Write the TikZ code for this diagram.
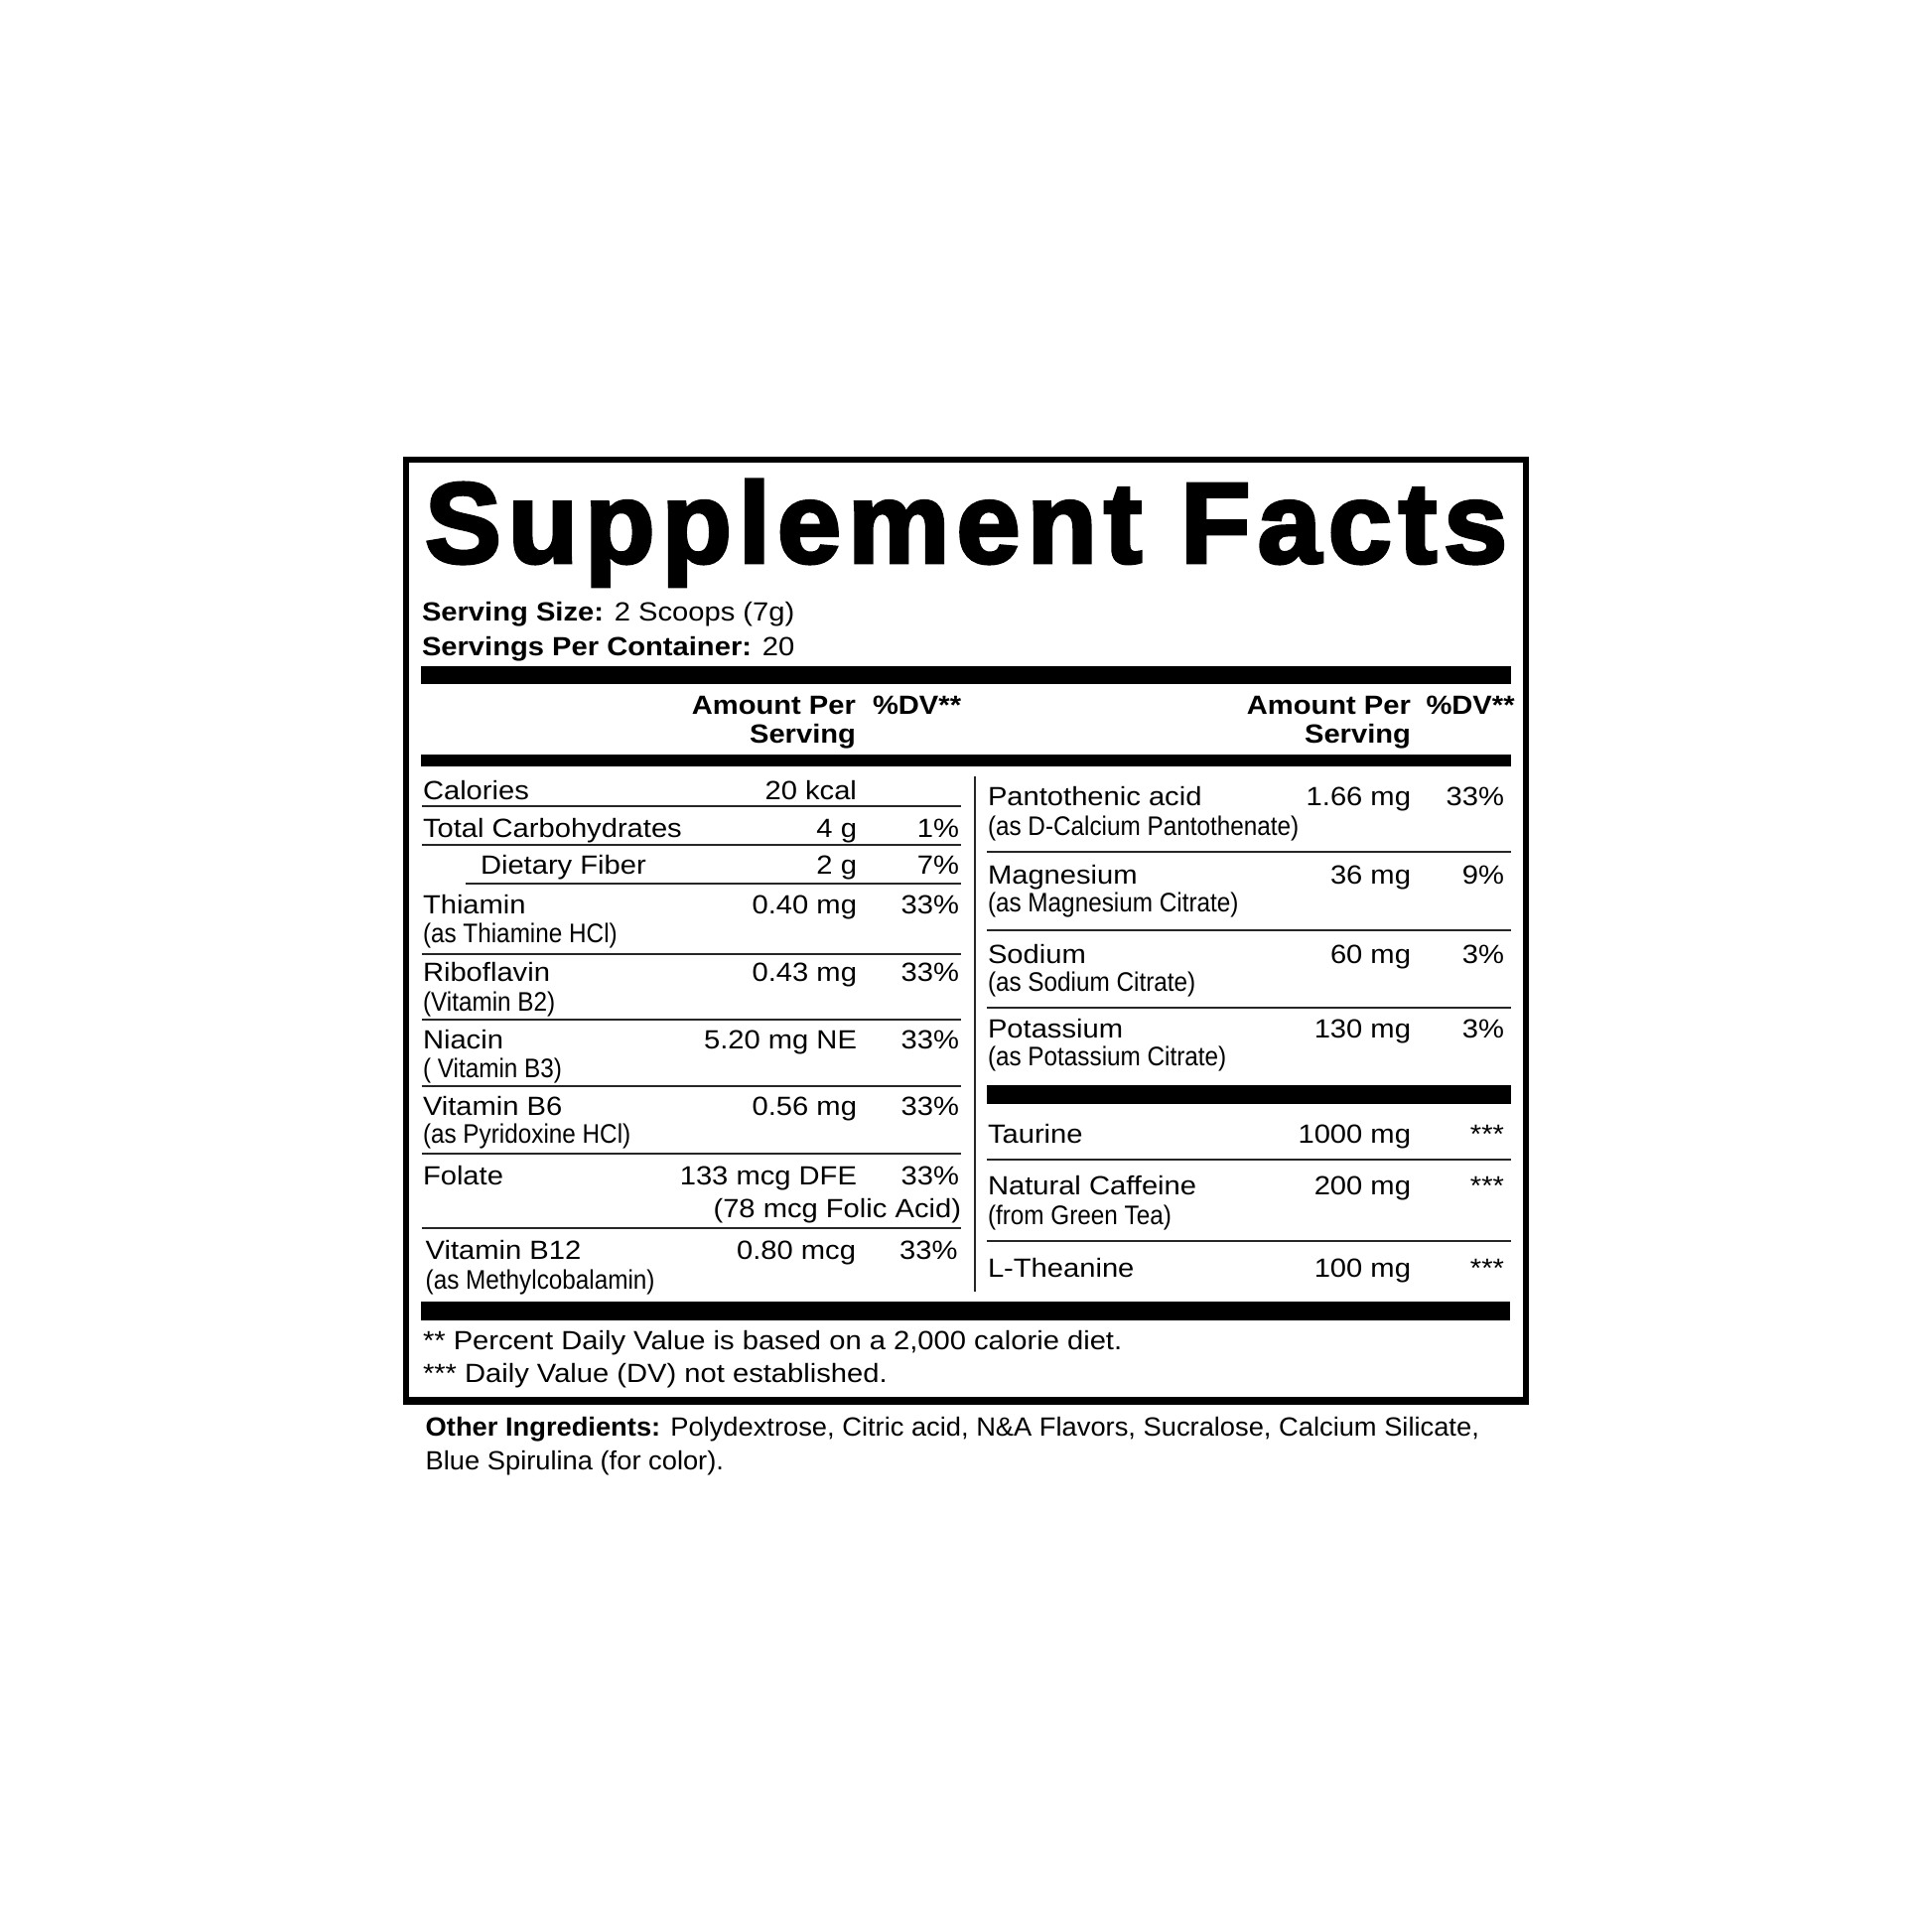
\documentclass[tikz,border=0pt]{standalone}
\usepackage{fontspec}
\usepackage{graphicx}
\newfontfamily\labelfont{Liberation Sans}[FakeStretch=1.1]
\newfontfamily\narrowfont{Liberation Sans}[FakeStretch=0.9]
\newfontfamily\heavyfont{Liberation Sans Bold}[FakeBold=3,LetterSpace=6]
\newcommand\bodysize{\fontsize{26.5}{30}\selectfont}
\newcommand\srcsize{\fontsize{27}{30}\selectfont}

\begin{document}
\begin{tikzpicture}[x=1pt,y=-1pt,
    every node/.style={inner sep=0pt,outer sep=0pt},
    lbl/.style={anchor=base west,font=\labelfont\bodysize},
    amt/.style={anchor=base east,font=\labelfont\bodysize},
    src/.style={anchor=base west,font=\narrowfont\srcsize},
    hdr/.style={font=\labelfont\bodysize\bfseries},
    rulethin/.style={line width=1.8pt,black!85},
    bar/.style={fill=black}]
  \useasboundingbox (0,0) rectangle (1946,1946);

  % frame
  \draw[line width=6pt] (408.5,462.5) rectangle (1537,1411);
  \draw[line width=8pt] (405.5,1411) -- (1540,1411);

  % title and serving info
  \node[anchor=base west] (title) at (428,566.7)
    {\resizebox{1090pt}{83.5pt}{\heavyfont Supplement Facts}};
  \node[lbl] (size) at (425,625) {\textbf{Serving Size:} 2 Scoops (7g)};
  \node[lbl] (servings) at (425,660) {\textbf{Servings Per Container:} 20};

  % heavy bars
  \fill[bar] (424,671) rectangle (1522,689);
  \fill[bar] (424,760) rectangle (1522,772);
  \fill[bar] (994,1093) rectangle (1522,1112);
  \fill[bar] (424,1311) rectangle (1521,1330);

  % column heads
  \node[hdr,anchor=base east] (amtL) at (862,719) {Amount Per};
  \node[hdr,anchor=base east] (servL) at (862,748.5) {Serving};
  \node[hdr,anchor=base west] (dvL) at (879,719) {\%DV**};
  \node[hdr,anchor=base east] (amtR) at (1421,719) {Amount Per};
  \node[hdr,anchor=base east] (servR) at (1421,748.5) {Serving};
  \node[hdr,anchor=base west] (dvR) at (1436.5,719) {\%DV**};

  % thin rules, left half
  \draw[rulethin] (425,812.3) -- (968,812.3);
  \draw[rulethin] (425,851) -- (968,851);
  \draw[rulethin] (469,890) -- (968,890);
  \draw[rulethin] (425,961) -- (968,961);
  \draw[rulethin] (425,1026.7) -- (968,1026.7);
  \draw[rulethin] (425,1094.3) -- (968,1094.3);
  \draw[rulethin] (425,1162) -- (968,1162);
  \draw[rulethin] (425,1236.7) -- (968,1236.7);
  % thin rules, right half
  \draw[rulethin] (994,858.3) -- (1522,858.3);
  \draw[rulethin] (994,936.7) -- (1522,936.7);
  \draw[rulethin] (994,1015) -- (1522,1015);
  \draw[rulethin] (994,1168.3) -- (1522,1168.3);
  \draw[rulethin] (994,1250) -- (1522,1250);
  \draw[rulethin] (982,782) -- (982,1301);

  % left column
  \node[lbl] (cal) at (426,805) {Calories};
  \node[amt] (cal-amt) at (863,805) {20 kcal};
  \node[lbl] (carb) at (426,843.3) {Total Carbohydrates};
  \node[amt] (carb-amt) at (863,843.3) {4 g};
  \node[amt] (carb-dv) at (966,843.3) {1\%};
  \node[lbl] (fiber) at (484,880) {Dietary Fiber};
  \node[amt] (fiber-amt) at (863,880) {2 g};
  \node[amt] (fiber-dv) at (966,880) {7\%};
  \node[lbl] (thia) at (426,920.7) {Thiamin};
  \node[src] (thia-src) at (426,949.3) {(as Thiamine HCl)};
  \node[amt] (thia-amt) at (863,920.7) {0.40 mg};
  \node[amt] (thia-dv) at (966,920.7) {33\%};
  \node[lbl] (ribo) at (426,988.3) {Riboflavin};
  \node[src] (ribo-src) at (426,1018.3) {(Vitamin B2)};
  \node[amt] (ribo-amt) at (863,988.3) {0.43 mg};
  \node[amt] (ribo-dv) at (966,988.3) {33\%};
  \node[lbl] (nia) at (426,1056) {Niacin};
  \node[src] (nia-src) at (426,1085) {( Vitamin B3)};
  \node[amt] (nia-amt) at (863,1056) {5.20 mg NE};
  \node[amt] (nia-dv) at (966,1056) {33\%};
  \node[lbl] (bsix) at (426,1123.3) {Vitamin B6};
  \node[src] (bsix-src) at (426,1151.7) {(as Pyridoxine HCl)};
  \node[amt] (bsix-amt) at (863,1123.3) {0.56 mg};
  \node[amt] (bsix-dv) at (966,1123.3) {33\%};
  \node[lbl] (fol) at (426,1193.3) {Folate};
  \node[amt] (fol-amt) at (863,1193.3) {133 mcg DFE};
  \node[amt] (fol-dv) at (966,1193.3) {33\%};
  \node[amt] (fol-acid) at (968,1226.7) {(78 mcg Folic Acid)};
  \node[lbl] (btwelve) at (428.7,1268.3) {Vitamin B12};
  \node[src] (btwelve-src) at (428.7,1298.3) {(as Methylcobalamin)};
  \node[amt] (btwelve-amt) at (862,1268.3) {0.80 mcg};
  \node[amt] (btwelve-dv) at (964.5,1268.3) {33\%};

  % right column
  \node[lbl] (panto) at (995,811.7) {Pantothenic acid};
  \node[src] (panto-src) at (995,841.7) {(as D-Calcium Pantothenate)};
  \node[amt] (panto-amt) at (1421,811.7) {1.66 mg};
  \node[amt] (panto-dv) at (1515,811.7) {33\%};
  \node[lbl] (mag) at (995,890) {Magnesium};
  \node[src] (mag-src) at (995,918.3) {(as Magnesium Citrate)};
  \node[amt] (mag-amt) at (1421,890) {36 mg};
  \node[amt] (mag-dv) at (1515,890) {9\%};
  \node[lbl] (sod) at (995,970) {Sodium};
  \node[src] (sod-src) at (995,998.3) {(as Sodium Citrate)};
  \node[amt] (sod-amt) at (1421,970) {60 mg};
  \node[amt] (sod-dv) at (1515,970) {3\%};
  \node[lbl] (pot) at (995,1045) {Potassium};
  \node[src] (pot-src) at (995,1073.3) {(as Potassium Citrate)};
  \node[amt] (pot-amt) at (1421,1045) {130 mg};
  \node[amt] (pot-dv) at (1515,1045) {3\%};
  \node[lbl] (taur) at (995,1151.7) {Taurine};
  \node[amt] (taur-amt) at (1421,1151.7) {1000 mg};
  \node[amt] (taur-dv) at (1515,1151.7) {***};
  \node[lbl] (caff) at (995,1203.3) {Natural Caffeine};
  \node[src] (caff-src) at (995,1233.3) {(from Green Tea)};
  \node[amt] (caff-amt) at (1421,1203.3) {200 mg};
  \node[amt] (caff-dv) at (1515,1203.3) {***};
  \node[lbl] (thea) at (995,1286.7) {L-Theanine};
  \node[amt] (thea-amt) at (1421,1286.7) {100 mg};
  \node[amt] (thea-dv) at (1515,1286.7) {***};

  % footnotes and ingredients
  \node[lbl] (note2) at (426,1359.3) {** Percent Daily Value is based on a 2,000 calorie diet.};
  \node[lbl] (note3) at (426,1392.7) {*** Daily Value (DV) not established.};
  \node[lbl] (other) at (428.7,1446.7)
    {\addfontfeature{FakeStretch=1.03}\textbf{Other Ingredients:} Polydextrose, Citric acid, N\&A Flavors, Sucralose, Calcium Silicate,};
  \node[lbl] (other2) at (428.7,1480) {\addfontfeature{FakeStretch=1.03}Blue Spirulina (for color).};
\end{tikzpicture}
\end{document}
